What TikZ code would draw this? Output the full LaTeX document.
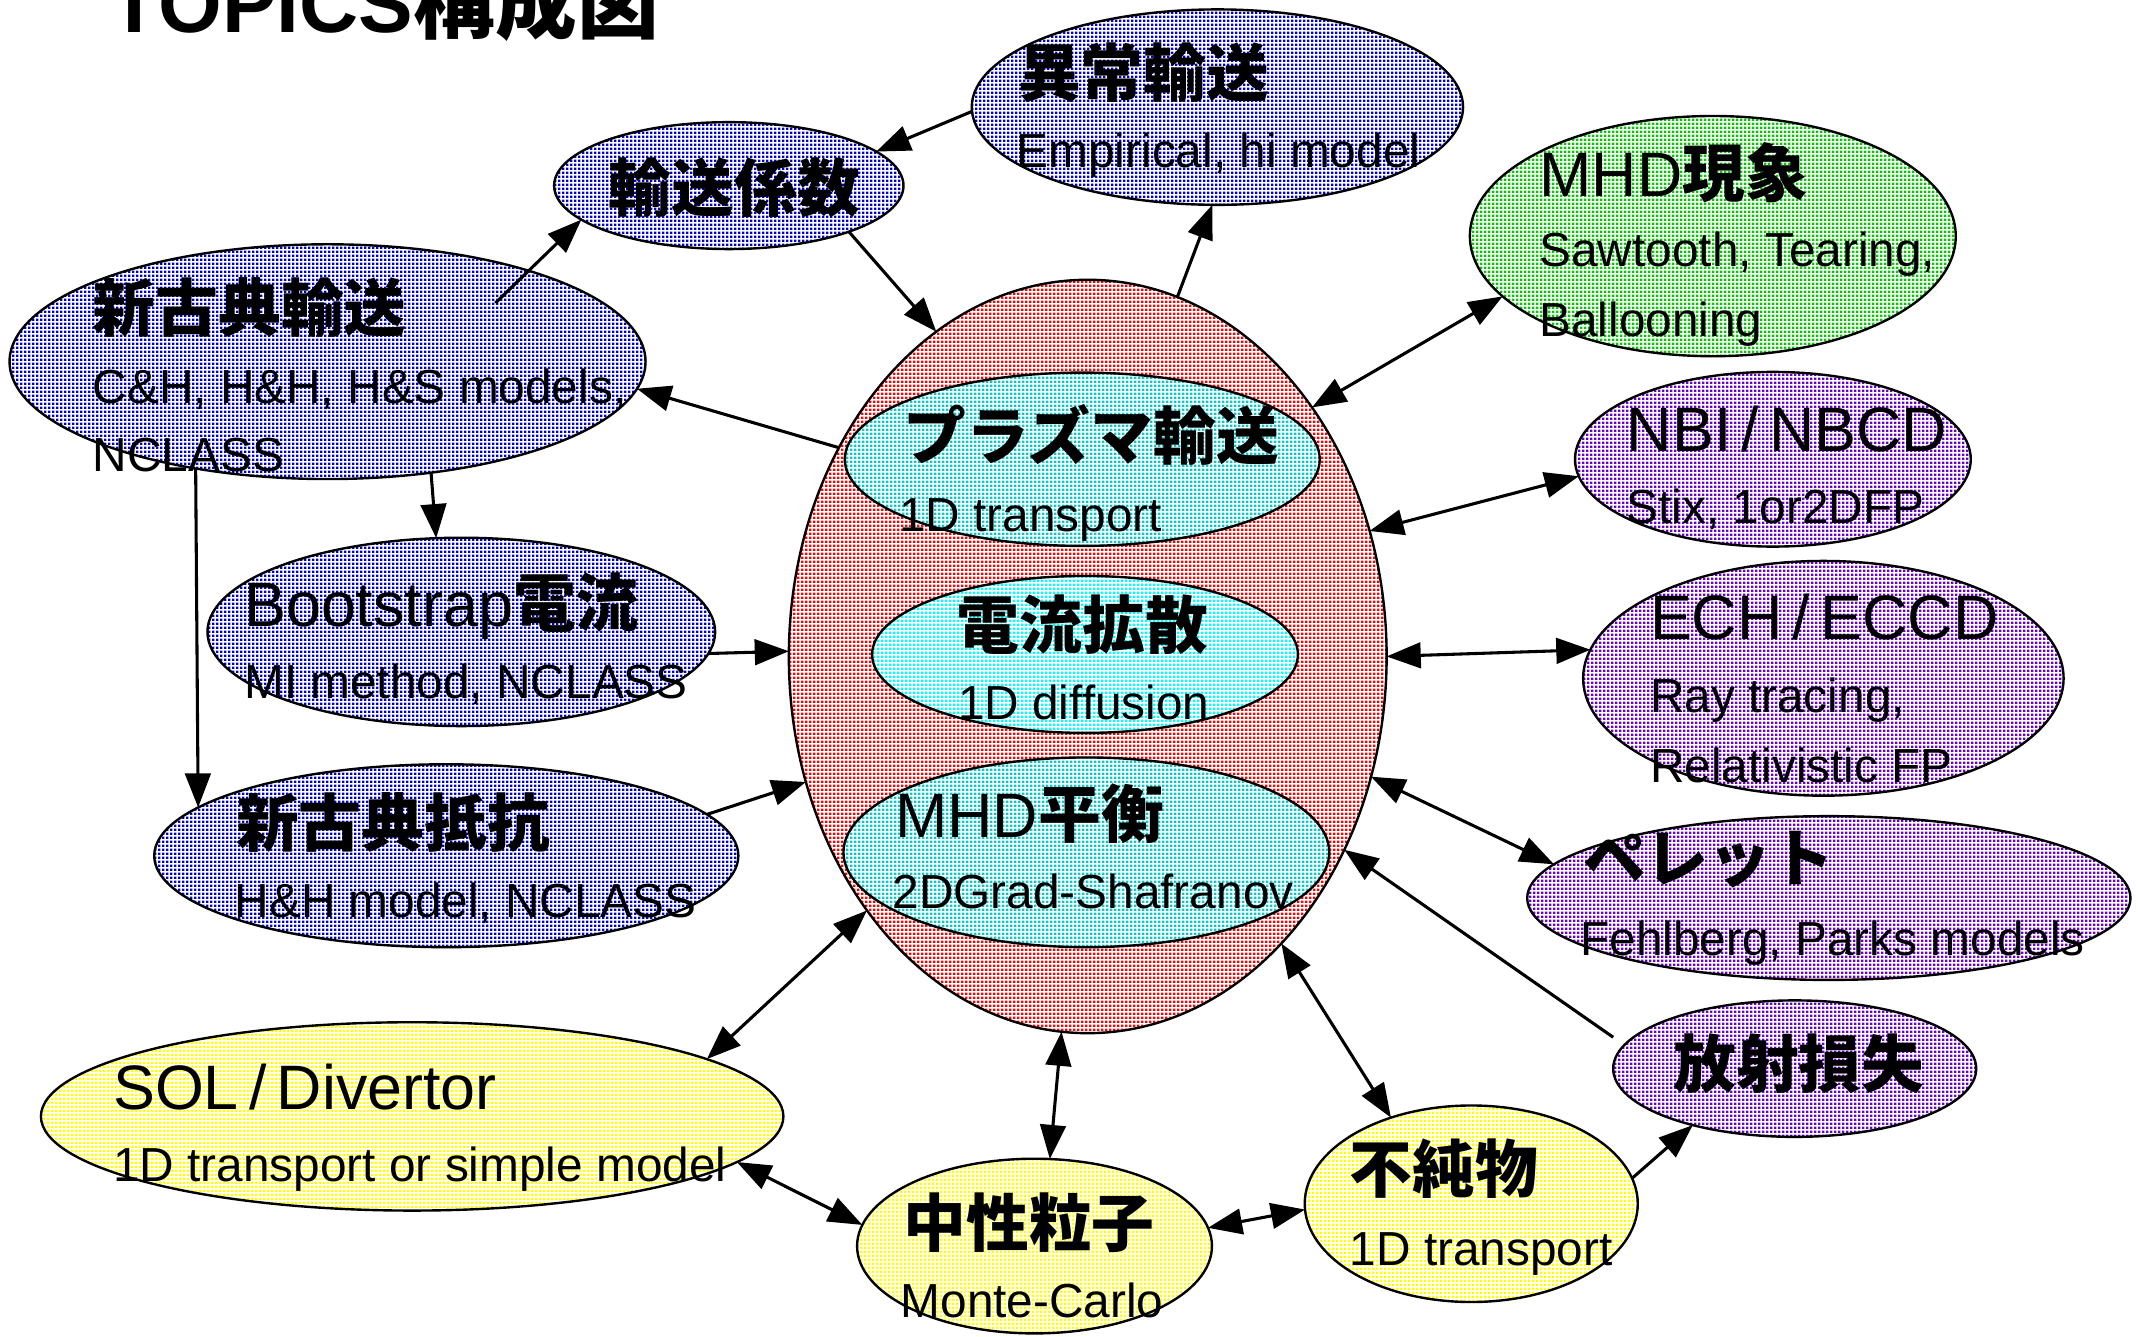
\documentclass[tikz,border=0pt]{standalone}
\usepackage{fontspec}
\setmainfont{Liberation Sans}
\newfontfamily\cjk{Noto Sans CJK JP}
\usetikzlibrary{shapes.geometric,arrows.meta,patterns.meta}
\tikzdeclarepattern{
  name=fdots,
  type=uncolored,
  bottom left={(0pt,0pt)},
  top right={(1.3pt,1.3pt)},
  tile size={(1.3pt,1.3pt)},
  code={\pgfpathrectangle{\pgfpointorigin}{\pgfpoint{0.75pt}{0.75pt}}\pgfusepath{fill}}
}
\definecolor{pblue}{RGB}{0,0,204}
\definecolor{pred}{RGB}{255,0,0}
\definecolor{pteal}{RGB}{0,204,204}
\definecolor{pcyan}{RGB}{0,255,255}
\definecolor{pgreen}{RGB}{0,204,0}
\definecolor{ppurple}{RGB}{102,0,204}
\definecolor{pyellow}{RGB}{255,255,0}
\newcommand{\jp}[1]{{\cjk\bfseries #1}}
\newcommand{\sepsl}{\kern3pt/\kern3pt}
\begin{document}
\begin{tikzpicture}[x=0.4pt,y=-0.4pt,
  ell/.style n args={3}{ellipse, draw=black, line width=0.7pt, inner sep=0pt, outer sep=0pt,
     minimum width=#1*0.8pt, minimum height=#2*0.8pt,
     preaction={fill=white}, pattern=fdots, pattern color=#3},
  hd/.style={anchor=base west, inner sep=0pt, outer sep=0pt, font=\fontsize{18.4}{22}\selectfont},
  sub/.style={anchor=base west, inner sep=0pt, outer sep=0pt, font=\fontsize{14}{17}\selectfont},
  arr/.style={line width=0.9pt, -{Triangle[length=10pt,width=7.5pt]}},
  darr/.style={line width=0.9pt, {Triangle[length=10pt,width=7.5pt]}-{Triangle[length=10pt,width=7.5pt]}}
]
\useasboundingbox (0,0) rectangle (1568,979);

% ellipses
\node[ell={219}{276}{pred}] (P) at (797,481) {};
\node[ell={174}{63.5}{pteal}] (T) at (793,336.5) {};
\node[ell={156}{57.5}{pcyan}] (F) at (795,479.5) {};
\node[ell={178}{69.5}{pteal}] (Q) at (796,624.5) {};
\node[ell={180}{71.6}{pblue}] (A) at (892,78.5) {};
\node[ell={128}{46.5}{pblue}] (Y) at (534,136) {};
\node[ell={233}{86}{pblue}] (S) at (240,265) {};
\node[ell={186}{69}{pblue}] (B) at (338,463) {};
\node[ell={214}{67}{pblue}] (R) at (327,627) {};
\node[ell={178}{88}{pgreen}] (M) at (1255,173) {};
\node[ell={145}{64}{ppurple}] (N) at (1299,336.5) {};
\node[ell={176}{86}{ppurple}] (E) at (1336,497) {};
\node[ell={221}{60}{ppurple}] (L) at (1340,658) {};
\node[ell={133}{50}{ppurple}] (H) at (1315,783) {};
\node[ell={272}{69}{pyellow}] (D) at (302,818) {};
\node[ell={130}{64}{pyellow}] (C) at (758,913) {};
\node[ell={122}{72}{pyellow}] (I) at (1078,882) {};

% title
\node[anchor=base west, inner sep=0pt, font=\fontsize{24}{28}\selectfont\bfseries] (title) at (80,24) {TOPICS\jp{構成図}};

% texts
\node[hd] (tA) at (746,71) {\jp{異常輸送}};
\node[sub] (sA) at (745,123) {Empirical, hi model};
\node[hd] (tY) at (446,155) {\jp{輸送係数}};
\node[hd] (tS) at (68,243) {\jp{新古典輸送}};
\node[sub] (sS1) at (68,295.5) {C\&H, H\&H, H\&S models,};
\node[sub] (sS2) at (68,345.5) {NCLASS};
\node[hd] (tB) at (179,459) {Bootstrap\jp{電流}};
\node[sub] (sB) at (179,511.5) {MI method, NCLASS};
\node[hd] (tR) at (173,620) {\jp{新古典抵抗}};
\node[sub] (sR) at (172,672.5) {H\&H model, NCLASS};
\node[hd] (tT) at (662,337) {\jp{プラズマ輸送}};
\node[sub] (sT) at (659,389.5) {1D transport};
\node[hd] (tF) at (701,475) {\jp{電流拡散}};
\node[sub] (sF) at (702,527.5) {1D diffusion};
\node[hd] (tQ) at (656,613.5) {MHD\jp{平衡}};
\node[sub] (sQ) at (654,665.5) {2DGrad-Shafranov};
\node[hd] (tM) at (1128,144) {MHD\jp{現象}};
\node[sub] (sM1) at (1128,195.5) {Sawtooth, Tearing,};
\node[sub] (sM2) at (1128,246.5) {Ballooning};
\node[hd] (tN) at (1192,331) {NBI\sepsl NBCD};
\node[sub] (sN) at (1192,383.5) {Stix, 1or2DFP};
\node[hd] (tE) at (1209,468.5) {ECH\sepsl ECCD};
\node[sub] (sE1) at (1209,522) {Ray tracing,};
\node[sub] (sE2) at (1209,573) {Relativistic FP};
\node[hd] (tL) at (1160,646) {\jp{ペレット}};
\node[sub] (sL) at (1158,700) {Fehlberg, Parks models};
\node[hd] (tH) at (1226,797) {\jp{放射損失}};
\node[hd] (tD) at (83,813) {SOL\sepsl Divertor};
\node[sub] (sD) at (83,866) {1D transport or simple model};
\node[hd] (tC) at (662,913) {\jp{中性粒子}};
\node[sub] (sC) at (660,965) {Monte-Carlo};
\node[hd] (tI) at (989,874) {\jp{不純物}};
\node[sub] (sI) at (989,927) {1D transport};

% connectors
\coordinate (s4) at (363,222);
\draw[arr] (A.181.6) -- (Y.13);
\draw[arr] (Y.339.5) -- (P.115.3);
\draw[arr] (P.76.5) -- (A.267);
\draw[arr] (s4) -- (Y.193);
\draw[arr] (P.140.2) -- (S.355.4);
\draw[arr] (S.313.2) -- (B.105.5);
\draw[arr] (S.219.4) -- (R.169.2);
\draw[arr] (B.355.4) -- (P.179.2);
\draw[arr] (R.9.8) -- (P.204.9);
\draw[darr] (D.11.5) -- (P.229.7);
\draw[darr] (D.352) -- (C.173.9);
\draw[darr] (C.80.7) -- (P.266.3);
\draw[darr] (C.6.9) -- (I.182.8);
\draw[darr] (I.133) -- (P.304.9);
\draw[arr] (I.9.8) -- (H.209);
\draw[arr] ([yshift=9.2pt]H.west) -- (P.323.1);
\draw[darr] (L.173.1) -- (P.337.5);
\draw[darr] (E.173.8) -- (P.0.8);
\draw[darr] (N.185.6) -- (P.24.1);
\draw[darr] (M.196) -- (P.48.6);
\end{tikzpicture}
\end{document}
